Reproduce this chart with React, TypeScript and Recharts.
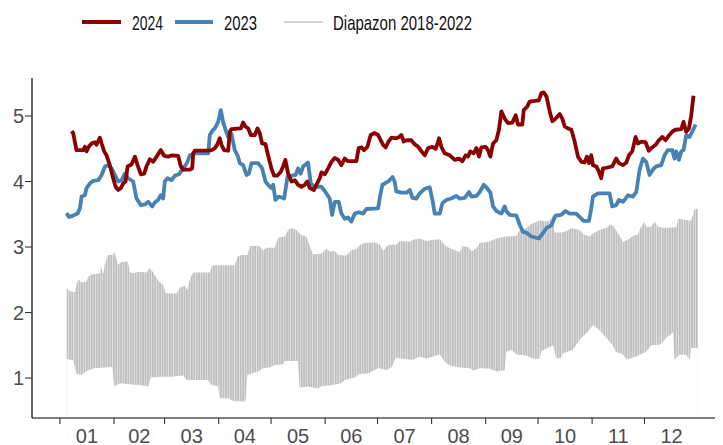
import React from 'react';
import { ComposedChart, Line, Area, XAxis, YAxis } from 'recharts';

// ---- data (day of year, value) ----
const line2024: [number, number][] = [
  [6.7, 4.77], [7.6, 4.74], [9.5, 4.48], [13.4, 4.48], [14.3, 4.53], [15.3, 4.46], [16.2, 4.52], [18.1, 4.58],
  [20.0, 4.6], [21.0, 4.56], [22.9, 4.67], [23.9, 4.58], [25.4, 4.46], [26.7, 4.4], [28.6, 4.25], [30.5, 4.05],
  [31.9, 3.92], [33.4, 3.87], [34.9, 3.9], [36.3, 3.97], [37.6, 4.0], [38.8, 4.23], [41.0, 4.26], [43.0, 4.38],
  [44.5, 4.25], [46.4, 4.11], [48.3, 4.12], [49.6, 4.23], [51.5, 4.34], [53.4, 4.3], [55.4, 4.38], [57.8, 4.48],
  [59.8, 4.39], [62.0, 4.38], [64.3, 4.4], [67.8, 4.39], [69.3, 4.23], [70.6, 4.18], [74.4, 4.18], [75.8, 4.2],
  [76.4, 4.43], [77.3, 4.47], [84.9, 4.47], [86.9, 4.48], [88.8, 4.51], [90.3, 4.57], [91.6, 4.66], [92.6, 4.56],
  [94.1, 4.48], [96.4, 4.47], [97.4, 4.76], [98.3, 4.8], [103.7, 4.81], [105.0, 4.9], [106.3, 4.84], [107.9, 4.81],
  [109.4, 4.71], [111.7, 4.71], [113.2, 4.81], [114.5, 4.74], [115.9, 4.58], [117.8, 4.57], [119.3, 4.4], [121.2, 4.2],
  [122.7, 4.09], [124.6, 4.09], [126.6, 4.15], [127.9, 4.23], [129.2, 4.33], [130.8, 4.12], [132.7, 4.0], [134.6, 4.02],
  [136.5, 3.95], [138.4, 3.92], [140.3, 3.95], [141.8, 4.0], [143.2, 3.9], [145.6, 3.87], [147.0, 3.95], [148.9, 4.05],
  [149.9, 4.14], [151.8, 4.11], [153.7, 4.2], [155.6, 4.3], [157.5, 4.36], [159.4, 4.33], [161.3, 4.25], [163.2, 4.35],
  [165.1, 4.31], [169.9, 4.31], [171.2, 4.51], [172.8, 4.52], [174.3, 4.48], [176.2, 4.53], [178.1, 4.71], [180.4, 4.74],
  [182.3, 4.71], [185.2, 4.56], [186.7, 4.52], [188.1, 4.6], [190.0, 4.67], [192.8, 4.66], [194.4, 4.68], [195.7, 4.71],
  [197.0, 4.61], [198.6, 4.63], [201.4, 4.63], [203.3, 4.57], [205.3, 4.53], [207.2, 4.46], [209.1, 4.4], [211.0, 4.51],
  [213.5, 4.53], [215.4, 4.5], [217.3, 4.66], [218.6, 4.53], [220.5, 4.43], [223.4, 4.4], [226.3, 4.33], [228.7, 4.35],
  [230.6, 4.31], [232.6, 4.4], [233.9, 4.38], [235.2, 4.46], [237.1, 4.43], [238.7, 4.51], [240.2, 4.38], [241.5, 4.52],
  [244.0, 4.53], [245.3, 4.48], [246.7, 4.38], [248.2, 4.58], [250.1, 4.63], [251.6, 4.79], [253.0, 5.07], [254.9, 4.96],
  [256.8, 4.89], [259.3, 4.9], [261.2, 5.01], [262.5, 4.87], [265.0, 4.87], [265.8, 5.09], [267.7, 5.14], [269.2, 5.22],
  [272.1, 5.23], [274.5, 5.24], [275.9, 5.35], [277.2, 5.36], [278.8, 5.3], [280.7, 5.07], [282.2, 4.92], [284.1, 4.96],
  [286.4, 5.03], [287.9, 4.96], [289.3, 4.84], [291.2, 4.81], [293.1, 4.79], [295.0, 4.61], [296.9, 4.38], [298.8, 4.3],
  [300.7, 4.29], [302.0, 4.38], [303.2, 4.28], [304.5, 4.4], [305.5, 4.25], [307.4, 4.23], [308.9, 4.15], [310.2, 4.05],
  [311.2, 4.2], [313.1, 4.21], [316.5, 4.23], [318.8, 4.35], [320.4, 4.28], [322.7, 4.25], [324.6, 4.29], [326.1, 4.4],
  [328.0, 4.46], [329.9, 4.68], [331.2, 4.58], [333.2, 4.61], [335.6, 4.6], [337.5, 4.47], [339.4, 4.52], [341.4, 4.56],
  [343.3, 4.63], [345.2, 4.68], [347.1, 4.63], [349.0, 4.7], [350.9, 4.76], [352.8, 4.79], [356.1, 4.8], [357.4, 4.91],
  [358.9, 4.76], [360.5, 4.81], [361.8, 5.01], [363.1, 5.31],
];

const line2023: [number, number][] = [
  [3.8, 3.52], [5.2, 3.46], [7.6, 3.48], [10.1, 3.51], [11.5, 3.59], [12.4, 3.77], [14.3, 3.79], [15.3, 3.9],
  [17.2, 3.97], [19.1, 4.01], [22.0, 4.02], [23.9, 4.1], [25.8, 4.23], [27.7, 4.25], [29.6, 4.2], [31.5, 4.1],
  [33.4, 4.0], [35.3, 4.02], [37.2, 4.12], [39.1, 4.05], [42.0, 4.0], [43.9, 3.74], [46.4, 3.64], [48.7, 3.65],
  [50.6, 3.69], [52.9, 3.62], [54.4, 3.68], [56.3, 3.72], [57.8, 3.79], [59.2, 3.74], [60.1, 4.0], [61.7, 4.05],
  [64.0, 4.02], [65.9, 4.09], [68.2, 4.11], [70.6, 4.2], [72.0, 4.25], [73.1, 4.3], [74.5, 4.4], [77.3, 4.43],
  [85.0, 4.43], [85.9, 4.71], [87.8, 4.79], [88.8, 4.81], [90.7, 4.91], [92.2, 5.09], [93.5, 4.91], [94.9, 4.79],
  [96.4, 4.68], [98.3, 4.73], [100.2, 4.48], [101.8, 4.4], [103.1, 4.28], [105.0, 4.25], [106.9, 4.1], [108.3, 4.12],
  [109.8, 4.28], [113.6, 4.28], [115.9, 4.2], [117.8, 4.0], [119.3, 3.95], [121.2, 3.9], [122.2, 3.95], [123.5, 3.72],
  [125.4, 3.77], [128.5, 3.74], [130.4, 4.07], [133.1, 4.09], [135.0, 4.1], [136.5, 4.2], [138.0, 4.12], [139.4, 4.23],
  [142.2, 4.29], [143.8, 3.97], [146.0, 3.92], [149.9, 3.92], [152.2, 3.84], [154.6, 3.74], [156.0, 3.49], [157.5, 3.69],
  [159.8, 3.69], [161.3, 3.51], [163.2, 3.43], [165.1, 3.45], [167.0, 3.39], [169.0, 3.51], [171.2, 3.53], [173.7, 3.51],
  [175.6, 3.58], [182.3, 3.59], [183.8, 3.82], [184.8, 3.95], [186.2, 3.97], [188.6, 4.01], [190.6, 4.07], [191.8, 4.0],
  [192.8, 3.85], [195.7, 3.83], [198.6, 3.83], [200.5, 3.87], [202.0, 3.75], [204.3, 3.74], [206.2, 3.82], [209.1, 3.89],
  [211.9, 3.91], [213.5, 3.72], [214.8, 3.51], [217.7, 3.51], [219.2, 3.67], [221.5, 3.72], [224.3, 3.74], [227.2, 3.78],
  [229.1, 3.74], [232.0, 3.75], [234.5, 3.84], [235.8, 3.77], [238.7, 3.78], [240.6, 3.84], [242.9, 3.95], [244.8, 3.9],
  [246.7, 3.83], [248.2, 3.62], [250.1, 3.55], [253.0, 3.51], [254.9, 3.62], [255.8, 3.55], [257.8, 3.49], [261.6, 3.48],
  [263.5, 3.34], [265.4, 3.23], [267.3, 3.22], [270.2, 3.16], [274.5, 3.13], [276.8, 3.21], [278.8, 3.29], [281.6, 3.33],
  [284.1, 3.48], [287.3, 3.49], [289.8, 3.55], [292.1, 3.51], [295.9, 3.51], [297.8, 3.46], [300.1, 3.4], [303.2, 3.4],
  [304.5, 3.59], [305.5, 3.77], [308.3, 3.82], [315.0, 3.82], [316.5, 3.62], [318.8, 3.64], [320.4, 3.72], [322.7, 3.69],
  [325.5, 3.79], [328.4, 3.77], [330.3, 3.84], [332.2, 4.18], [334.1, 4.35], [336.0, 4.3], [337.9, 4.1], [339.8, 4.18],
  [341.7, 4.23], [344.6, 4.25], [346.5, 4.4], [348.4, 4.48], [350.9, 4.48], [352.2, 4.35], [353.2, 4.46], [354.7, 4.33],
  [356.1, 4.46], [357.4, 4.48], [358.9, 4.71], [360.8, 4.68], [362.4, 4.76], [364.3, 4.87],
];

const rangeHigh: [number, number][] = [
  [3.8, 2.37], [5.5, 2.33], [8.6, 2.31], [9.5, 2.42], [10.5, 2.51], [12.4, 2.46], [15.3, 2.47], [16.2, 2.55],
  [18.1, 2.58], [22.9, 2.6], [23.5, 2.7], [24.8, 2.58], [25.8, 2.75], [27.7, 2.88], [30.0, 2.88], [31.5, 2.92],
  [32.5, 2.8], [33.4, 2.73], [35.3, 2.77], [38.8, 2.78], [40.1, 2.61], [42.0, 2.6], [44.9, 2.62], [47.2, 2.62],
  [49.6, 2.61], [51.5, 2.68], [53.5, 2.61], [54.4, 2.57], [57.3, 2.46], [59.2, 2.42], [60.5, 2.3], [63.0, 2.29],
  [66.8, 2.29], [68.7, 2.38], [71.6, 2.41], [73.1, 2.34], [74.5, 2.52], [76.4, 2.61], [85.9, 2.61], [87.2, 2.72],
  [100.2, 2.72], [101.8, 2.85], [104.0, 2.88], [107.5, 2.88], [108.8, 3.01], [111.7, 3.02], [114.5, 3.01], [116.5, 2.95],
  [118.4, 2.99], [123.1, 2.99], [125.0, 3.14], [128.9, 3.16], [130.8, 3.26], [132.7, 3.29], [135.5, 3.26], [138.4, 3.18],
  [141.3, 3.16], [143.2, 3.01], [145.1, 2.89], [149.9, 2.9], [152.7, 2.97], [154.6, 2.93], [157.5, 2.94], [159.4, 2.88],
  [164.2, 2.87], [167.0, 2.95], [169.9, 2.97], [172.4, 3.04], [174.7, 3.06], [180.4, 3.07], [183.3, 3.04], [185.2, 2.94],
  [188.1, 3.03], [192.8, 3.04], [194.8, 3.09], [200.5, 3.08], [202.4, 3.11], [206.2, 3.13], [210.0, 3.09], [213.9, 3.11],
  [217.7, 3.12], [220.5, 3.03], [223.4, 2.98], [226.3, 2.95], [229.1, 2.92], [230.6, 3.01], [233.9, 3.0], [235.8, 2.93],
  [238.7, 2.98], [240.6, 3.06], [246.3, 3.08], [248.2, 3.11], [252.0, 3.14], [255.8, 3.16], [261.6, 3.17], [263.1, 3.24],
  [267.3, 3.29], [270.2, 3.35], [274.9, 3.41], [278.8, 3.39], [280.7, 3.41], [282.6, 3.49], [283.5, 3.22], [287.3, 3.22],
  [290.2, 3.24], [293.1, 3.29], [297.8, 3.26], [300.1, 3.19], [303.6, 3.16], [305.5, 3.21], [309.3, 3.26], [314.1, 3.3],
  [315.0, 3.34], [316.9, 3.33], [319.8, 3.21], [322.7, 3.08], [325.5, 3.11], [328.4, 3.17], [331.2, 3.19], [332.6, 3.29],
  [335.1, 3.39], [336.0, 3.31], [338.9, 3.31], [340.8, 3.39], [342.7, 3.31], [346.5, 3.29], [353.2, 3.3], [354.2, 3.43],
  [361.8, 3.4], [363.7, 3.58], [365.6, 3.58],
];

const rangeLow: [number, number][] = [
  [3.8, 1.29], [7.6, 1.27], [8.6, 1.17], [9.5, 1.06], [12.4, 1.05], [16.2, 1.12], [20.0, 1.15], [25.8, 1.16],
  [29.9, 1.17], [31.1, 0.87], [34.4, 0.92], [41.0, 0.9], [46.8, 0.89], [50.6, 0.87], [52.1, 1.01], [58.2, 1.02],
  [64.0, 1.02], [70.6, 1.04], [72.5, 0.97], [77.3, 0.97], [85.0, 0.97], [86.5, 0.9], [90.7, 0.87], [91.6, 0.69],
  [96.4, 0.69], [99.3, 0.65], [106.3, 0.64], [107.5, 1.05], [109.8, 1.07], [113.6, 1.1], [116.4, 1.15], [120.3, 1.16],
  [123.1, 1.2], [127.9, 1.21], [128.9, 1.26], [136.5, 1.26], [137.4, 0.85], [142.2, 0.87], [147.9, 0.84], [149.9, 0.88],
  [155.6, 0.89], [161.3, 0.92], [163.2, 0.97], [168.9, 1.01], [171.8, 1.06], [176.6, 1.07], [182.3, 1.15], [183.3, 1.15],
  [187.1, 1.12], [190.0, 1.16], [192.5, 1.31], [196.7, 1.29], [202.4, 1.28], [206.2, 1.33], [210.0, 1.3], [217.7, 1.36],
  [220.5, 1.25], [223.4, 1.19], [229.1, 1.16], [235.0, 1.15], [236.8, 1.11], [240.6, 1.15], [246.3, 1.14], [250.1, 1.1],
  [254.9, 1.12], [255.8, 1.4], [258.7, 1.43], [261.6, 1.36], [267.3, 1.34], [271.1, 1.3], [274.9, 1.29], [275.9, 1.41],
  [282.6, 1.5], [284.5, 1.3], [287.3, 1.31], [288.3, 1.38], [294.0, 1.43], [297.8, 1.58], [302.6, 1.71], [305.5, 1.81],
  [309.3, 1.73], [313.1, 1.61], [316.9, 1.5], [318.5, 1.4], [322.7, 1.36], [325.0, 1.28], [330.3, 1.33], [336.0, 1.4],
  [338.9, 1.5], [343.7, 1.51], [347.5, 1.61], [351.3, 1.7], [352.2, 1.28], [355.1, 1.36], [358.9, 1.35], [360.8, 1.28],
  [361.8, 1.46], [365.6, 1.46],
];

const monthStarts = [0, 31, 60, 91, 121, 152, 182, 213, 244, 274, 305, 335];
const monthLengths = [31, 29, 31, 30, 31, 30, 31, 31, 30, 31, 30, 31];
const monthLabels = ['01', '02', '03', '04', '05', '06', '07', '08', '09', '10', '11', '12'];
const yTicks = [1, 2, 3, 4, 5];
const legendLabels = ['2024', '2023', 'Diapazon 2018-2022'];

// ---- layout ----
const CHART_W = 715;
const CHART_H = 440;
const Y_AXIS_W = 24;
const X_MIN = -16;
const X_MAX = 380;
const Y_MIN = 0.39;
const Y_MAX = 5.58;
const PX_PER_DAY = (CHART_W - Y_AXIS_W) / (X_MAX - X_MIN);
const FONT = '"Liberation Sans", Arial, sans-serif';

const toPts = (arr: [number, number][]) => arr.map(([d, v]) => ({ d, v }));

const MonthTick = (props: any) => {
  const { x, y, payload } = props;
  const idx = monthStarts.indexOf(payload.value);
  if (idx < 0) return null;
  const cx = x + (monthLengths[idx] / 2) * PX_PER_DAY;
  return (
    <text x={cx} y={y} dy="0.71em" textAnchor="middle" fill="#4D4D4D" fontSize={20} fontFamily={FONT}>
      {monthLabels[idx]}
    </text>
  );
};

const Legend = () => (
  <svg width={CHART_W} height={40} style={{ position: 'absolute', left: 0, top: 0 }}>
    <line x1={74} x2={113} y1={14} y2={14} stroke="#8B0000" strokeWidth={4} />
    <text x={124} y={21.5} fontSize={21} fontFamily={FONT} fill="#111" textLength={31} lengthAdjust="spacingAndGlyphs">
      {legendLabels[0]}
    </text>
    <line x1={167} x2={205} y1={14} y2={14} stroke="#4682B4" strokeWidth={4} />
    <text x={216} y={21.5} fontSize={21} fontFamily={FONT} fill="#111" textLength={33} lengthAdjust="spacingAndGlyphs">
      {legendLabels[1]}
    </text>
    <line x1={276} x2={315} y1={14} y2={14} stroke="#C8C8C8" strokeWidth={1.3} />
    <text x={325} y={21.5} fontSize={21} fontFamily={FONT} fill="#111" textLength={139} lengthAdjust="spacingAndGlyphs">
      {legendLabels[2]}
    </text>
  </svg>
);

export default function App() {
  return (
    <div style={{ position: 'relative', width: CHART_W, height: CHART_H, background: '#fff' }}>
      <svg width={0} height={0} style={{ position: 'absolute' }}>
        <defs>
          <pattern id="stripes" width={2.44} height={20} patternUnits="userSpaceOnUse">
            <rect x={0} y={0} width={1.95} height={20} fill="#BEBEBE" />
          </pattern>
        </defs>
      </svg>
      <Legend />
      <ComposedChart width={CHART_W} height={CHART_H} margin={{ top: 70, right: 0, bottom: 0, left: 0 }}>
        <Area
          data={toPts(rangeHigh)}
          dataKey="v"
          type="linear"
          fill="url(#stripes)"
          fillOpacity={1}
          stroke="none"
          baseValue={Y_MIN}
          isAnimationActive={false}
        />
        <Area
          data={toPts(rangeLow)}
          dataKey="v"
          type="linear"
          fill="#FFFFFF"
          fillOpacity={1}
          stroke="none"
          baseValue={Y_MIN}
          isAnimationActive={false}
        />
        <Line
          data={toPts(line2023)}
          dataKey="v"
          type="linear"
          stroke="#4682B4"
          strokeWidth={3.8}
          strokeLinejoin="round"
          dot={false}
          isAnimationActive={false}
        />
        <Line
          data={toPts(line2024)}
          dataKey="v"
          type="linear"
          stroke="#8B0000"
          strokeWidth={3.8}
          strokeLinejoin="round"
          dot={false}
          isAnimationActive={false}
        />
        <XAxis
          dataKey="d"
          type="number"
          domain={[X_MIN, X_MAX]}
          allowDataOverflow
          ticks={monthStarts}
          interval={0}
          tickSize={6}
          tickMargin={5}
          height={30}
          axisLine={{ stroke: '#000', strokeWidth: 1.2 }}
          tickLine={{ stroke: '#333', strokeWidth: 1.1 }}
          tick={(p: any) => <MonthTick {...p} />}
        />
        <YAxis
          type="number"
          domain={[Y_MIN, Y_MAX]}
          allowDataOverflow
          ticks={yTicks}
          interval={0}
          width={Y_AXIS_W}
          tickSize={7}
          tickMargin={1}
          axisLine={{ stroke: '#000', strokeWidth: 1.2 }}
          tickLine={{ stroke: '#333', strokeWidth: 1.1 }}
          tick={{ fill: '#4D4D4D', fontSize: 20, fontFamily: FONT }}
        />
      </ComposedChart>
    </div>
  );
}
